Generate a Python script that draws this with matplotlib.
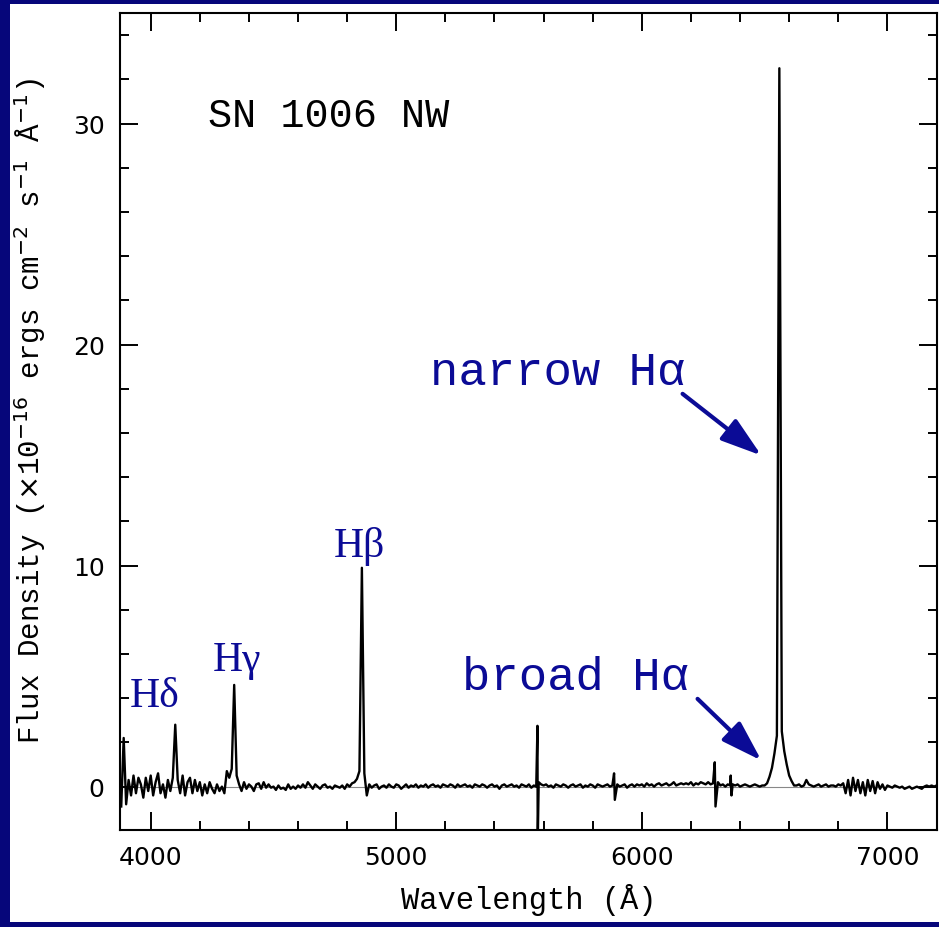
import numpy as np
import matplotlib
matplotlib.use("Agg")
import matplotlib.pyplot as plt
from matplotlib.patches import Rectangle
from matplotlib.ticker import MultipleLocator

# flux on a 10 A grid starting at 3880 A (one row = 100 A)
flux_grid = [
	-0.9, 2.2, -0.8, 0.3, -0.4, 0.5, -0.3, 0.4, 0.1, -0.5,       # 3880
	0.4, -0.2, 0.5, -0.4, 0.2, 0.6, -0.3, 0.1, -0.5, 0.3,        # 3980
	-0.2, 0.4, 2.8, 0.3, -0.3, 0.5, -0.4, 0.2, 0.4, -0.3,        # 4080
	0.3, -0.2, 0.2, -0.4, 0.1, -0.3, 0.2, -0.1, -0.3, 0.1,       # 4180
	-0.2, 0.0, -0.3, 0.7, 0.4, 0.8, 4.6, 0.5, 0.1, -0.2,         # 4280
	0.2, -0.1, 0.1, 0.0, -0.2, 0.1, 0.15, -0.1, 0.2, -0.05,      # 4380
	0.1, -0.05, 0.0, -0.15, 0.05, -0.1, -0.05, -0.15, 0.1, -0.1, # 4480
	0.0, -0.1, 0.05, -0.05, 0.1, -0.05, 0.2, 0.05, -0.1, 0.1,    # 4580
	0.0, -0.1, 0.05, 0.1, -0.05, 0.0, -0.1, 0.05, 0.0, -0.05,    # 4680
	0.05, -0.1, 0.1, 0.0, 0.15, 0.2, 0.35, 0.7, 9.9, 0.6,        # 4780
	-0.4, 0.1, -0.05, 0.05, 0.1, -0.1, 0.0, 0.05, -0.05, 0.1,    # 4880
	0.0, -0.05, 0.1, 0.05, -0.1, 0.0, 0.1, -0.05, 0.05, 0.0,     # 4980
	0.1, -0.05, 0.05, 0.0, 0.1, -0.05, 0.05, 0.1, 0.0, 0.05,     # 5080
	-0.05, 0.1, 0.05, 0.0, 0.1, 0.05, -0.05, 0.1, 0.0, 0.05,     # 5180
	0.1, 0.0, 0.05, -0.05, 0.1, 0.05, 0.0, 0.1, 0.05, -0.05,     # 5280
	0.05, 0.1, 0.0, 0.05, -0.1, 0.05, 0.1, 0.0, 0.05, 0.1,       # 5380
	0.0, 0.05, -0.05, 0.1, 0.05, 0.0, 0.1, -0.05, 0.05, 0.0,     # 5480
	0.2, 0.1, 0.05, 0.1, 0.0, 0.05, -0.05, 0.1, 0.05, 0.0,       # 5580
	0.1, 0.05, -0.05, 0.05, 0.1, 0.0, 0.05, 0.1, -0.05, 0.05,    # 5680
	0.0, 0.1, 0.05, -0.05, 0.1, 0.05, 0.0, 0.05, 0.1, 0.0,       # 5780
	0.05, -0.6, 0.1, 0.0, 0.05, 0.1, -0.05, 0.05, 0.1, 0.0,      # 5880
	0.1, 0.05, 0.1, 0.0, 0.15, 0.05, 0.1, 0.0, 0.1, 0.15,        # 5980
	0.05, 0.1, 0.15, 0.05, 0.1, 0.2, 0.05, 0.1, 0.15, 0.1,       # 6080
	0.15, 0.1, 0.2, 0.05, 0.15, 0.1, 0.2, 0.15, 0.1, 0.2,        # 6180
	0.1, 0.15, -0.9, 0.2, 0.05, 0.1, 0.0, 0.1, 0.05, 0.1,        # 6280
	0.05, 0.1, 0.0, 0.05, 0.1, 0.05, 0.0, 0.05, 0.1, 0.05,       # 6380
	0.0, 0.05, 0.05, 0.15, 0.45, 0.85, 1.5, 2.3, 32.5, 2.5,      # 6480
	1.6, 1.0, 0.5, 0.25, 0.05, 0.05, 0.1, 0.0, 0.05, 0.3,        # 6580
	0.1, 0.05, 0.0, 0.05, 0.1, 0.0, 0.05, 0.1, 0.0, 0.05,        # 6680
	0.05, 0.0, 0.1, 0.05, 0.15, -0.3, 0.3, -0.4, 0.4, -0.2,      # 6780
	0.3, -0.3, 0.2, -0.4, 0.3, -0.2, 0.25, -0.3, 0.2, -0.1,      # 6880
	0.1, -0.15, 0.05, 0.0, -0.05, 0.05, 0.0, -0.05, 0.0, -0.1,   # 6980
	-0.05, 0.0, -0.1, -0.05, 0.0, -0.05, -0.1, 0.0, 0.05, 0.0,   # 7080
	0.05, 0.0, 0.05,                                             # 7180
]
wl_grid = np.arange(3880, 3880 + 10 * len(flux_grid), 10)

# sharp spikes (night sky lines etc.) between grid points
wl_spikes = [5575, 5576, 5887, 6297, 6362, 6365]
flux_spikes = [2.75, -2.6, 0.6, 1.1, 0.5, -0.4]

wl = np.concatenate([wl_grid, wl_spikes])
flux = np.concatenate([flux_grid, flux_spikes])
order = np.argsort(wl, kind="stable")
wl = wl[order]
flux = flux[order]

line_names = ["H\u03b4", "H\u03b3", "H\u03b2"]
line_label_x = [3915, 4252, 4747]
line_label_y = [3.66, 5.29, 10.44]

blue = "#0b0b96"

fig = plt.figure(figsize=(9.39, 9.28), dpi=100)
fig.patch.set_facecolor("#06067a")
fig.add_artist(Rectangle((10 / 939, 1 - 923 / 928), 929 / 939, 918 / 928,
	transform=fig.transFigure, facecolor="white", edgecolor="none", zorder=-5))

ax = fig.add_axes([120 / 939, 1 - 830.7 / 928, 817 / 939, 816.7 / 928])
ax.axhline(0, color="#888888", lw=0.8, zorder=1)
ax.plot(wl, flux, color="black", lw=1.7, zorder=2)

ax.set_xlim(3875, 7202)
ax.set_ylim(-1.95, 35.0)

ax.xaxis.set_major_locator(MultipleLocator(1000))
ax.xaxis.set_minor_locator(MultipleLocator(200))
ax.yaxis.set_major_locator(MultipleLocator(10))
ax.yaxis.set_minor_locator(MultipleLocator(2))
ax.tick_params(which="both", direction="in", top=True, right=True, width=1.4)
ax.tick_params(which="major", length=13, labelsize=18, pad=11)
ax.tick_params(which="minor", length=6.5)
for lab in ax.get_xticklabels() + ax.get_yticklabels():
	lab.set_family("DejaVu Sans")
for s in ax.spines.values():
	s.set_linewidth(1.5)

ax.set_xlabel("Wavelength (\u00c5)", family="Liberation Mono", fontsize=22)
ax.set_ylabel("Flux Density ($\\times$10$^{-16}$ ergs cm$^{-2}$ s$^{-1}$ \u00c5$^{-1}$)",
	family="Liberation Mono", fontsize=21)
ax.xaxis.set_label_coords(0.5, -0.065)
ax.yaxis.set_label_coords(-0.088, 0.514)

ax.text(4232, 29.9, "SN 1006 NW", family="Liberation Mono", fontsize=29,
	ha="left", va="baseline")

for name, x, y in zip(line_names, line_label_x, line_label_y):
	ax.text(x, y, name, family="Liberation Serif", fontsize=30, color=blue,
		ha="left", va="baseline")

ax.text(5136, 18.22, "narrow H\u03b1", family="Liberation Mono", fontsize=34,
	color=blue, ha="left", va="baseline")
ax.text(5266, 4.42, "broad H\u03b1", family="Liberation Mono", fontsize=34,
	color=blue, ha="left", va="baseline")

arrow = dict(arrowstyle="-|>,head_length=1.0,head_width=0.32", color=blue,
	lw=3, mutation_scale=25, shrinkA=0, shrinkB=0)
ax.annotate("", xy=(6487, 14.98), xytext=(6166, 17.77), arrowprops=arrow)
ax.annotate("", xy=(6487, 1.18), xytext=(6227, 3.97), arrowprops=arrow)

fig.savefig("out.png", dpi=100, facecolor=fig.get_facecolor())
